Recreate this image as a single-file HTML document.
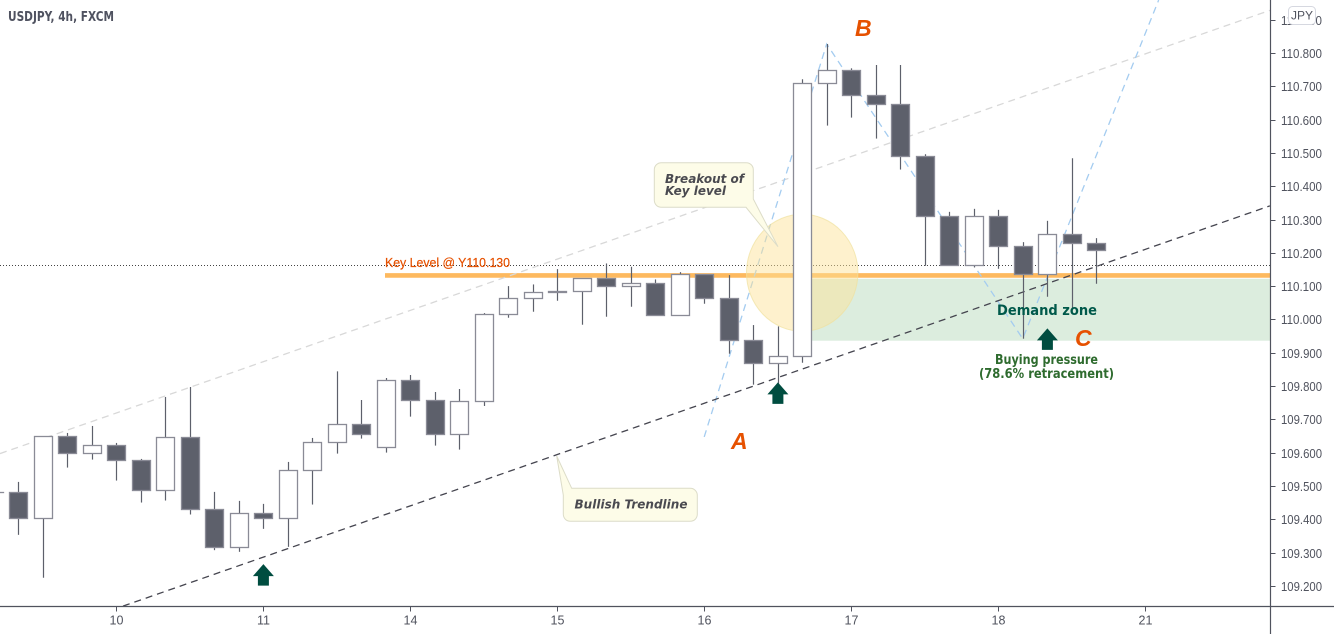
<!DOCTYPE html>
<html lang="en">
<head>
<meta charset="utf-8">
<title>USDJPY, 4h, FXCM</title>
<style>
  html, body { margin: 0; padding: 0; background: #fff; }
  #chart { display: block; width: 1334px; height: 634px; font-family: "Liberation Sans", sans-serif; }
  .tick-label { font-size: 12.5px; fill: #50535e; }
  .callout-text { font-family: "DejaVu Sans", sans-serif; font-weight: bold; font-style: italic; font-size: 12.5px; fill: #4a4a50; }
  .wave-label { font-family: "Liberation Sans", sans-serif; font-weight: bold; font-style: italic; font-size: 23px; fill: #e65100; }
</style>
</head>
<body>
<svg id="chart" xmlns="http://www.w3.org/2000/svg" width="1334" height="634" viewBox="0 0 1334 634">
  <defs>
    <clipPath id="pane-clip"><rect x="0" y="0" width="1270" height="606"></rect></clipPath>
  </defs>
  <rect x="0" y="0" width="1334" height="634" fill="#ffffff"></rect>
  <g id="drawings" clip-path="url(#pane-clip)"></g>
  <g id="candles" clip-path="url(#pane-clip)"></g>
  <g id="axes"></g>

  <g>
    <path d="M661.3 162.7H746.3A7 7 0 0 1 753.3 169.7V199L778 246.7L746 207.3H661.3A7 7 0 0 1 654.3 200.3V169.7A7 7 0 0 1 661.3 162.7Z" fill="#fdfce8" stroke="#dcdcc8" stroke-width="1"></path>
    <text class="callout-text" x="665" y="183" textLength="79" lengthAdjust="spacingAndGlyphs">Breakout of</text>
    <text class="callout-text" x="665" y="195" textLength="61" lengthAdjust="spacingAndGlyphs">Key level</text>
  </g>
  <g>
    <path d="M556.7 456L571.7 488.3H690.3A7 7 0 0 1 697.3 495.3V514.3A7 7 0 0 1 690.3 521.3H570.3A7 7 0 0 1 563.3 514.3V495Z" fill="#fdfce8" stroke="#dcdcc8" stroke-width="1"></path>
    <text class="callout-text" x="574.5" y="508.5" textLength="113" lengthAdjust="spacingAndGlyphs">Bullish Trendline</text>
  </g>

  <text x="385" y="267" font-size="13" fill="#e65100" stroke="#e65100" stroke-width="0.2" textLength="125" lengthAdjust="spacingAndGlyphs">Key Level @ Y110.130</text>
  <text x="997" y="315" font-family="'DejaVu Sans', sans-serif" font-size="14.5" font-weight="bold" fill="#00594a" textLength="100" lengthAdjust="spacingAndGlyphs">Demand zone</text>
  <text x="995" y="364" font-family="'DejaVu Sans', sans-serif" font-size="13" font-weight="bold" fill="#2e6b2e" textLength="103" lengthAdjust="spacingAndGlyphs">Buying pressure</text>
  <text x="979" y="378" font-family="'DejaVu Sans', sans-serif" font-size="13" font-weight="bold" fill="#2e6b2e" textLength="135" lengthAdjust="spacingAndGlyphs">(78.6% retracement)</text>

  <text class="wave-label" x="731" y="449">A</text>
  <text class="wave-label" x="855" y="36">B</text>
  <text class="wave-label" x="1075" y="346">C</text>

  <text x="8" y="21" font-family="'DejaVu Sans', sans-serif" font-size="13" font-weight="bold" fill="#4f5260" textLength="106" lengthAdjust="spacingAndGlyphs">USDJPY, 4h, FXCM</text>

  <g>
    <rect x="1288.5" y="6.5" width="27" height="18" rx="4" fill="#ffffff" stroke="#d6d8e0"></rect>
    <text x="1302" y="19.5" font-size="12" fill="#50535e" text-anchor="middle">JPY</text>
  </g>
</svg>

<script>
const dateLabels = ['10', '11', '14', '15', '16', '17', '18', '21'];
const dateBarIndex = [5, 11, 17, 23, 29, 35, 41, 47];
const priceTicks = [110.9, 110.8, 110.7, 110.6, 110.5, 110.4, 110.3, 110.2, 110.1, 110.0, 109.9, 109.8, 109.7, 109.6, 109.5, 109.4, 109.3, 109.2];

const opens = [109.481, 109.481, 109.403, 109.649, 109.598, 109.622, 109.577, 109.487, 109.646, 109.430, 109.316, 109.418, 109.403, 109.547, 109.631, 109.685, 109.616, 109.817, 109.757, 109.655, 109.754, 110.015, 110.063, 110.082, 110.084, 110.123, 110.099, 110.108, 110.012, 110.135, 110.063, 109.937, 109.868, 109.889, 110.709, 110.748, 110.675, 110.646, 110.490, 110.310, 110.162, 110.310, 110.220, 110.135, 110.256, 110.229];
const highs = [109.481, 109.512, 109.649, 109.659, 109.680, 109.629, 109.581, 109.767, 109.797, 109.482, 109.455, 109.446, 109.572, 109.644, 109.844, 109.758, 109.824, 109.833, 109.782, 109.791, 110.019, 110.100, 110.105, 110.151, 110.123, 110.168, 110.158, 110.120, 110.142, 110.135, 110.133, 109.983, 109.979, 110.721, 110.827, 110.754, 110.764, 110.764, 110.496, 110.323, 110.332, 110.329, 110.232, 110.296, 110.484, 110.244];
const lows = [109.481, 109.353, 109.224, 109.555, 109.579, 109.516, 109.450, 109.456, 109.414, 109.307, 109.302, 109.371, 109.317, 109.444, 109.597, 109.642, 109.600, 109.708, 109.621, 109.609, 109.740, 110.005, 110.023, 110.056, 109.984, 110.008, 110.038, 110.012, 110.012, 110.047, 109.897, 109.804, 109.806, 109.870, 110.582, 110.606, 110.543, 110.450, 110.161, 110.162, 110.156, 110.152, 109.942, 110.068, 110.034, 110.107];
const closes = [109.481, 109.403, 109.649, 109.598, 109.622, 109.577, 109.487, 109.646, 109.430, 109.316, 109.418, 109.403, 109.547, 109.631, 109.685, 109.655, 109.817, 109.757, 109.655, 109.754, 110.015, 110.063, 110.081, 110.084, 110.123, 110.099, 110.108, 110.012, 110.135, 110.063, 109.937, 109.868, 109.889, 110.709, 110.748, 110.675, 110.646, 110.490, 110.310, 110.162, 110.310, 110.220, 110.135, 110.256, 110.229, 110.208];

const lastPrice = 110.162;
const keyLevel = 110.132;
const keyLevelStartBar = 16;
const demandZoneTop = 110.122;
const demandZoneBottom = 109.936;
const demandZoneStartBar = 33;
const trendlineBars = [5.278, 52.09];
const trendlinePrices = [109.139, 110.341];
const channelBars = [0.257, 52.09];
const channelPrices = [109.597, 110.928];
const fibBars = [29, 34, 42, 47.55];
const fibPrices = [109.647, 110.827, 109.942, 110.959];
const arrowBars = [11, 32, 43];
const arrowTipPrices = [109.265, 109.811, 109.973];
const circleBar = 33;
const circlePrice = 110.14;

const NS = 'http://www.w3.org/2000/svg';
const PANE_RIGHT = 1270.5;
const PANE_BOTTOM = 606.5;
const xOfBar = (i) => -6.3 + 24.5 * i;
const yOfPrice = (p) => 53 + (110.8 - p) * 333;

function svgEl(tag, parent) {
  const el = document.createElementNS(NS, tag);
  parent.appendChild(el);
  return el;
}

const drawings = document.getElementById('drawings');
const candles = document.getElementById('candles');
const axes = document.getElementById('axes');

const zone = svgEl('rect', drawings);


zone.setAttribute('x', xOfBar(demandZoneStartBar));
zone.setAttribute('y', yOfPrice(demandZoneTop));
zone.setAttribute('width', PANE_RIGHT - xOfBar(demandZoneStartBar));
zone.setAttribute('height', yOfPrice(demandZoneBottom) - yOfPrice(demandZoneTop));
zone.setAttribute('fill', '#dcedde');

const dotted = svgEl('line', drawings);


dotted.setAttribute('x1', 0);
dotted.setAttribute('x2', PANE_RIGHT);
dotted.setAttribute('y1', Math.round(yOfPrice(lastPrice)) + 0.5);
dotted.setAttribute('y2', Math.round(yOfPrice(lastPrice)) + 0.5);
dotted.setAttribute('stroke', '#444444');
dotted.setAttribute('stroke-dasharray', '1 2');

const keyLine = svgEl('line', drawings);


keyLine.setAttribute('x1', xOfBar(keyLevelStartBar) - 0.7);
keyLine.setAttribute('x2', PANE_RIGHT);
keyLine.setAttribute('y1', yOfPrice(keyLevel));
keyLine.setAttribute('y2', yOfPrice(keyLevel));
keyLine.setAttribute('stroke', '#fdb95f');
keyLine.setAttribute('stroke-width', 4.6);

const channel = svgEl('line', drawings);


channel.setAttribute('x1', xOfBar(channelBars[0]));
channel.setAttribute('y1', yOfPrice(channelPrices[0]));
channel.setAttribute('x2', xOfBar(channelBars[1]));
channel.setAttribute('y2', yOfPrice(channelPrices[1]));
channel.setAttribute('stroke', '#d8d8d8');
channel.setAttribute('stroke-width', 1.3);
channel.setAttribute('stroke-dasharray', '7 5');

const fib = svgEl('polyline', drawings);


fib.setAttribute('points', fibBars.map((b, i) => xOfBar(b) + ',' + yOfPrice(fibPrices[i])).join(' '));
fib.setAttribute('fill', 'none');
fib.setAttribute('stroke', '#a4ccf0');
fib.setAttribute('stroke-width', 1.3);
fib.setAttribute('stroke-dasharray', '7 5');

const trend = svgEl('line', drawings);


trend.setAttribute('x1', xOfBar(trendlineBars[0]));
trend.setAttribute('y1', yOfPrice(trendlinePrices[0]));
trend.setAttribute('x2', xOfBar(trendlineBars[1]));
trend.setAttribute('y2', yOfPrice(trendlinePrices[1]));
trend.setAttribute('stroke', '#45454f');
trend.setAttribute('stroke-width', 1.3);
trend.setAttribute('stroke-dasharray', '7 5');

const circle = svgEl('ellipse', drawings);


circle.setAttribute('cx', xOfBar(circleBar));
circle.setAttribute('cy', yOfPrice(circlePrice));
circle.setAttribute('rx', 55.7);
circle.setAttribute('ry', 58.5);
circle.setAttribute('fill', 'rgba(252,226,150,0.48)');
circle.setAttribute('stroke', 'rgba(240,225,160,0.7)');

opens.forEach((open, i) => {
  const close = closes[i];
  const x = Math.round(xOfBar(i)) + 0.5;
  const up = close >= open;
  const g = svgEl('g', candles);
  
  
  const wick = svgEl('line', g);
  
  
  wick.setAttribute('x1', x);
  wick.setAttribute('x2', x);
  wick.setAttribute('y1', yOfPrice(highs[i]));
  wick.setAttribute('y2', yOfPrice(lows[i]));
  wick.setAttribute('stroke', '#5d606b');
  wick.setAttribute('stroke-width', 1.2);
  const top = Math.round(yOfPrice(Math.max(open, close))) + 0.5;
  const bottom = Math.round(yOfPrice(Math.min(open, close))) + 0.5;
  const body = svgEl('rect', g);
  
  
  body.setAttribute('x', x - 9);
  body.setAttribute('y', top);
  body.setAttribute('width', 18);
  body.setAttribute('height', Math.max(bottom - top, 0.01));
  body.setAttribute('fill', up ? '#ffffff' : '#5d606b');
  body.setAttribute('stroke', '#8a8b96');
  body.setAttribute('stroke-width', 1.3);
});

arrowBars.forEach((bar, i) => {
  const x = xOfBar(bar) + 0.2;
  const y = yOfPrice(arrowTipPrices[i]);
  const arrow = svgEl('path', candles);
  
  
  arrow.setAttribute('d', 'M' + x + ' ' + y + 'L' + (x + 10.5) + ' ' + (y + 12) + 'H' + (x + 5.5) + 'V' + (y + 21.5) + 'H' + (x - 5.5) + 'V' + (y + 12) + 'H' + (x - 10.5) + 'Z');
  arrow.setAttribute('fill', '#004d40');
});

const xAxisLine = svgEl('line', axes);


xAxisLine.setAttribute('x1', 0);
xAxisLine.setAttribute('x2', 1334);
xAxisLine.setAttribute('y1', PANE_BOTTOM);
xAxisLine.setAttribute('y2', PANE_BOTTOM);
xAxisLine.setAttribute('stroke', '#50535e');
xAxisLine.setAttribute('stroke-width', 1.2);

const yAxisLine = svgEl('line', axes);


yAxisLine.setAttribute('x1', PANE_RIGHT);
yAxisLine.setAttribute('x2', PANE_RIGHT);
yAxisLine.setAttribute('y1', 0);
yAxisLine.setAttribute('y2', 634);
yAxisLine.setAttribute('stroke', '#50535e');
yAxisLine.setAttribute('stroke-width', 1.2);

dateLabels.forEach((label, i) => {
  const x = Math.round(xOfBar(dateBarIndex[i])) + 0.5;
  const tick = svgEl('line', axes);
  
  
  tick.setAttribute('x1', x);
  tick.setAttribute('x2', x);
  tick.setAttribute('y1', PANE_BOTTOM);
  tick.setAttribute('y2', PANE_BOTTOM + 5);
  tick.setAttribute('stroke', '#50535e');
  const text = svgEl('text', axes);
  
  
  text.setAttribute('class', 'tick-label');
  text.setAttribute('x', x);
  text.setAttribute('y', 624.5);
  text.setAttribute('text-anchor', 'middle');
  text.textContent = label;
});

priceTicks.forEach((price) => {
  const y = Math.round(yOfPrice(price)) + 0.5;
  const tick = svgEl('line', axes);
  
  
  tick.setAttribute('x1', PANE_RIGHT);
  tick.setAttribute('x2', PANE_RIGHT + 5);
  tick.setAttribute('y1', y);
  tick.setAttribute('y2', y);
  tick.setAttribute('stroke', '#50535e');
  const text = svgEl('text', axes);
  
  
  text.setAttribute('class', 'tick-label');
  text.setAttribute('x', 1281);
  text.setAttribute('y', y + 4.5);
  text.setAttribute('textLength', 41);
  text.setAttribute('lengthAdjust', 'spacingAndGlyphs');
  text.textContent = price.toFixed(3);
});
</script>
</body>
</html>
